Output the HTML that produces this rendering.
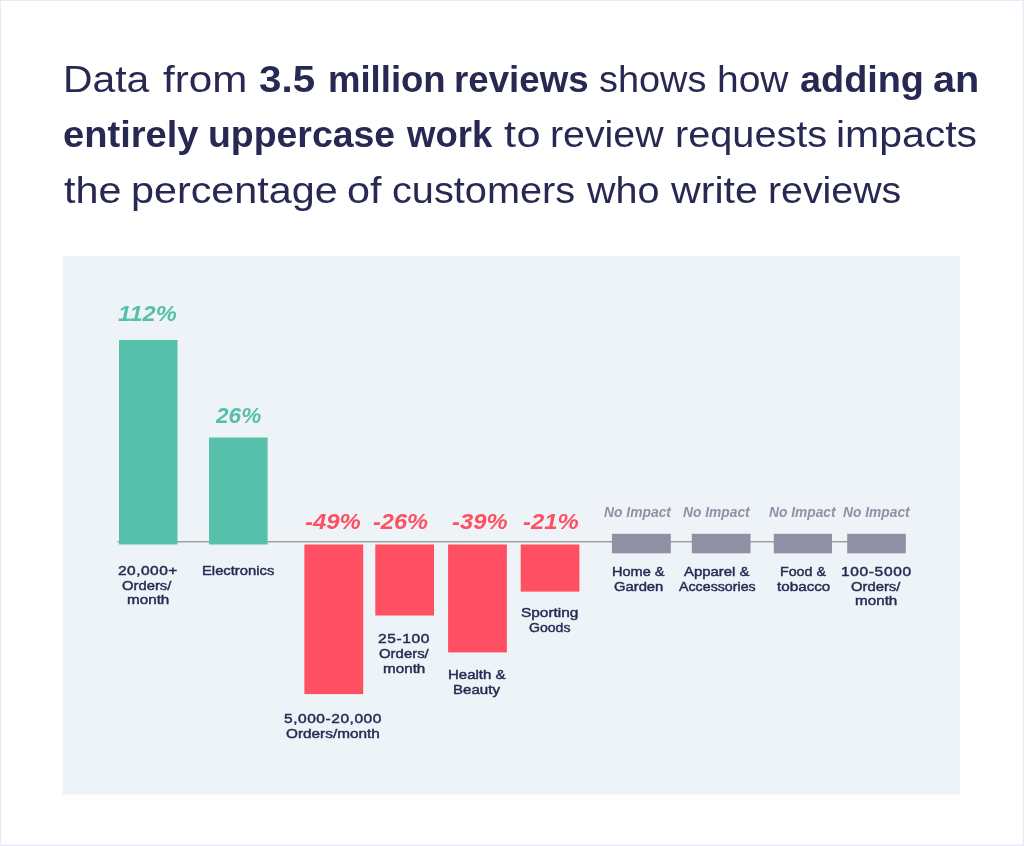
<!DOCTYPE html>
<html lang="en">
<head>
<meta charset="utf-8">
<title>Review request uppercase word impact</title>
<style>
html,body{margin:0;padding:0;}
body{width:1024px;height:846px;position:relative;overflow:hidden;background:#fff;font-family:"Liberation Sans",sans-serif;}
h1,figure,ul,li{margin:0;padding:0;font-weight:normal;font-size:inherit;list-style:none;}
strong{font-weight:inherit;}
.plot{position:absolute;left:0;top:0;display:block;}
.w{position:absolute;white-space:nowrap;line-height:1;transform-origin:0 0;}

.tr{font-weight:400;font-style:normal;font-size:36px;color:#282952;}
.tb{font-weight:700;font-style:normal;font-size:36px;color:#282952;}
.lb{font-weight:400;font-style:normal;font-size:13.6px;color:#282952;-webkit-text-stroke:0.45px #282952;}
.pg{font-weight:700;font-style:italic;font-size:22.8px;color:#56c0aa;}
.pr{font-weight:700;font-style:italic;font-size:22.8px;color:#ff4f63;}
.ni{font-weight:700;font-style:italic;font-size:14px;color:#9291a5;}
</style>
</head>
<body>
<h1 class="title">
<span class="w tr" style="left:63.43px;top:61.75px;letter-spacing:0.000px;transform:scaleX(1.1343);">Data</span> <span class="w tr" style="left:163.00px;top:61.75px;letter-spacing:0.000px;transform:scaleX(1.1698);">from</span> <span class="w tb" style="left:259.00px;top:61.75px;letter-spacing:0.078px;transform:scaleX(1.1200);">3.5</span> <span class="w tb" style="left:327.57px;top:61.75px;letter-spacing:0.000px;transform:scaleX(1.0142);">million</span> <span class="w tb" style="left:454.46px;top:61.75px;letter-spacing:0.000px;transform:scaleX(1.0188);">reviews</span> <span class="w tr" style="left:598.70px;top:61.75px;letter-spacing:0.000px;transform:scaleX(1.0521);">shows</span> <span class="w tr" style="left:716.84px;top:61.75px;letter-spacing:0.000px;transform:scaleX(1.0824);">how</span> <span class="w tb" style="left:800.15px;top:61.75px;letter-spacing:0.000px;transform:scaleX(1.0505);">adding</span> <span class="w tb" style="left:933.40px;top:61.75px;letter-spacing:0.000px;transform:scaleX(1.1020);">an</span> <span class="w tb" style="left:62.74px;top:116.75px;letter-spacing:0.000px;transform:scaleX(1.0580);">entirely</span> <span class="w tb" style="left:207.82px;top:116.75px;letter-spacing:0.000px;transform:scaleX(1.0392);">uppercase</span> <span class="w tb" style="left:406.61px;top:116.75px;letter-spacing:0.000px;transform:scaleX(1.0139);">work</span> <span class="w tr" style="left:504.00px;top:116.75px;letter-spacing:0.331px;transform:scaleX(1.2000);">to</span> <span class="w tr" style="left:549.52px;top:116.75px;letter-spacing:0.000px;transform:scaleX(1.0919);">review</span> <span class="w tr" style="left:674.80px;top:116.75px;letter-spacing:0.000px;transform:scaleX(1.1023);">requests</span> <span class="w tr" style="left:836.48px;top:116.75px;letter-spacing:0.000px;transform:scaleX(1.1373);">impacts</span> <span class="w tr" style="left:63.50px;top:172.75px;letter-spacing:0.000px;transform:scaleX(1.1474);">the</span> <span class="w tr" style="left:130.61px;top:172.75px;letter-spacing:0.000px;transform:scaleX(1.1473);">percentage</span> <span class="w tr" style="left:346.95px;top:172.75px;letter-spacing:0.000px;transform:scaleX(1.1458);">of</span> <span class="w tr" style="left:391.90px;top:172.75px;letter-spacing:0.000px;transform:scaleX(1.1028);">customers</span> <span class="w tr" style="left:586.70px;top:172.75px;letter-spacing:0.000px;transform:scaleX(1.0966);">who</span> <span class="w tr" style="left:670.94px;top:172.75px;letter-spacing:0.000px;transform:scaleX(1.1423);">write</span> <span class="w tr" style="left:767.52px;top:172.75px;letter-spacing:0.000px;transform:scaleX(1.0922);">reviews</span>
</h1>
<figure class="chart">
<svg class="plot" width="1024" height="846" viewBox="0 0 1024 846" aria-hidden="true">
<path class="frame" d="M0 0H1024V846H0Z M1 1V844.6H1022.6V1Z" fill="#e6ecf7" fill-rule="evenodd"/>
<rect class="panel" x="62.6" y="256" width="897.4" height="538.6" fill="#eef3f7"/>
<rect class="axis" x="117.5" y="541.0" width="788.3" height="1.5" fill="#a0a0a0"/>
<rect class="bar" x="119.00" y="340.00" width="58.50" height="204.50" fill="#56c0aa"/>
<rect class="bar" x="209.00" y="437.50" width="58.60" height="107.00" fill="#56c0aa"/>
<rect class="bar" x="304.40" y="544.50" width="58.80" height="149.60" fill="#ff4f63"/>
<rect class="bar" x="375.30" y="544.50" width="58.70" height="71.00" fill="#ff4f63"/>
<rect class="bar" x="448.10" y="544.50" width="58.80" height="107.90" fill="#ff4f63"/>
<rect class="bar" x="520.70" y="544.50" width="58.70" height="47.10" fill="#ff4f63"/>
<rect class="bar" x="611.90" y="533.80" width="58.90" height="19.50" fill="#908fa3"/>
<rect class="bar" x="691.80" y="533.80" width="58.70" height="19.50" fill="#908fa3"/>
<rect class="bar" x="773.80" y="533.80" width="58.20" height="19.50" fill="#908fa3"/>
<rect class="bar" x="847.20" y="533.80" width="58.60" height="19.50" fill="#908fa3"/>
</svg>
<ul class="cats">
<li class="cat pos"><strong class="val"><span class="w pg" style="left:117.50px;top:301.85px;letter-spacing:0.000px;transform:scaleX(1.0383);">112%</span></strong> <span class="name"><span class="w lb" style="left:117.90px;top:563.95px;letter-spacing:0.421px;transform:scaleX(1.1400);">20,000+</span> <span class="w lb" style="left:122.30px;top:578.95px;letter-spacing:0.000px;transform:scaleX(1.0890);">Orders/</span> <span class="w lb" style="left:126.70px;top:592.95px;letter-spacing:0.000px;transform:scaleX(1.1203);">month</span></span></li>
<li class="cat pos"><strong class="val"><span class="w pg" style="left:215.99px;top:403.85px;letter-spacing:0.000px;transform:scaleX(0.9923);">26%</span></strong> <span class="name"><span class="w lb" style="left:201.51px;top:563.95px;letter-spacing:0.000px;transform:scaleX(1.0870);">Electronics</span></span></li>
<li class="cat neg"><strong class="val"><span class="w pr" style="left:304.60px;top:509.85px;letter-spacing:0.000px;transform:scaleX(1.0482);">-49%</span></strong> <span class="name"><span class="w lb" style="left:283.60px;top:711.95px;letter-spacing:0.483px;transform:scaleX(1.1400);">5,000-20,000</span> <span class="w lb" style="left:285.75px;top:726.95px;letter-spacing:0.000px;transform:scaleX(1.1285);">Orders/month</span></span></li>
<li class="cat neg"><strong class="val"><span class="w pr" style="left:372.90px;top:509.85px;letter-spacing:0.000px;transform:scaleX(1.0350);">-26%</span></strong> <span class="name"><span class="w lb" style="left:378.00px;top:631.95px;letter-spacing:0.552px;transform:scaleX(1.1400);">25-100</span> <span class="w lb" style="left:378.50px;top:646.95px;letter-spacing:0.000px;transform:scaleX(1.0978);">Orders/</span> <span class="w lb" style="left:382.90px;top:661.95px;letter-spacing:0.000px;transform:scaleX(1.1203);">month</span></span></li>
<li class="cat neg"><strong class="val"><span class="w pr" style="left:451.60px;top:509.85px;letter-spacing:0.000px;transform:scaleX(1.0444);">-39%</span></strong> <span class="name"><span class="w lb" style="left:447.70px;top:667.95px;letter-spacing:0.000px;transform:scaleX(1.1043);">Health &amp;</span> <span class="w lb" style="left:452.59px;top:682.95px;letter-spacing:0.000px;transform:scaleX(1.1102);">Beauty</span></span></li>
<li class="cat neg"><strong class="val"><span class="w pr" style="left:522.80px;top:509.85px;letter-spacing:0.000px;transform:scaleX(1.0482);">-21%</span></strong> <span class="name"><span class="w lb" style="left:521.10px;top:605.95px;letter-spacing:0.000px;transform:scaleX(1.1344);">Sporting</span> <span class="w lb" style="left:528.70px;top:620.95px;letter-spacing:0.000px;transform:scaleX(1.0359);">Goods</span></span></li>
<li class="cat flat"><strong class="val"><span class="w ni" style="left:603.50px;top:505.25px;letter-spacing:0.000px;transform:scaleX(0.9897);">No Impact</span></strong> <span class="name"><span class="w lb" style="left:611.73px;top:564.95px;letter-spacing:0.000px;transform:scaleX(1.0700);">Home &amp;</span> <span class="w lb" style="left:614.10px;top:579.95px;letter-spacing:0.000px;transform:scaleX(1.0875);">Garden</span></span></li>
<li class="cat flat"><strong class="val"><span class="w ni" style="left:683.20px;top:505.25px;letter-spacing:0.000px;transform:scaleX(0.9853);">No Impact</span></strong> <span class="name"><span class="w lb" style="left:684.40px;top:564.95px;letter-spacing:0.000px;transform:scaleX(1.0967);">Apparel &amp;</span> <span class="w lb" style="left:678.70px;top:579.95px;letter-spacing:0.000px;transform:scaleX(1.0465);">Accessories</span></span></li>
<li class="cat flat"><strong class="val"><span class="w ni" style="left:769.10px;top:505.25px;letter-spacing:0.000px;transform:scaleX(0.9839);">No Impact</span></strong> <span class="name"><span class="w lb" style="left:779.55px;top:564.95px;letter-spacing:0.000px;transform:scaleX(1.0477);">Food &amp;</span> <span class="w lb" style="left:776.70px;top:579.95px;letter-spacing:0.000px;transform:scaleX(1.1201);">tobacco</span></span></li>
<li class="cat flat"><strong class="val"><span class="w ni" style="left:842.80px;top:505.25px;letter-spacing:0.000px;transform:scaleX(0.9853);">No Impact</span></strong> <span class="name"><span class="w lb" style="left:841.46px;top:564.95px;letter-spacing:0.570px;transform:scaleX(1.1400);">100-5000</span> <span class="w lb" style="left:851.00px;top:579.95px;letter-spacing:0.000px;transform:scaleX(1.0890);">Orders/</span> <span class="w lb" style="left:855.40px;top:593.95px;letter-spacing:0.000px;transform:scaleX(1.1203);">month</span></span></li>
</ul>
</figure>
</body>
</html>
